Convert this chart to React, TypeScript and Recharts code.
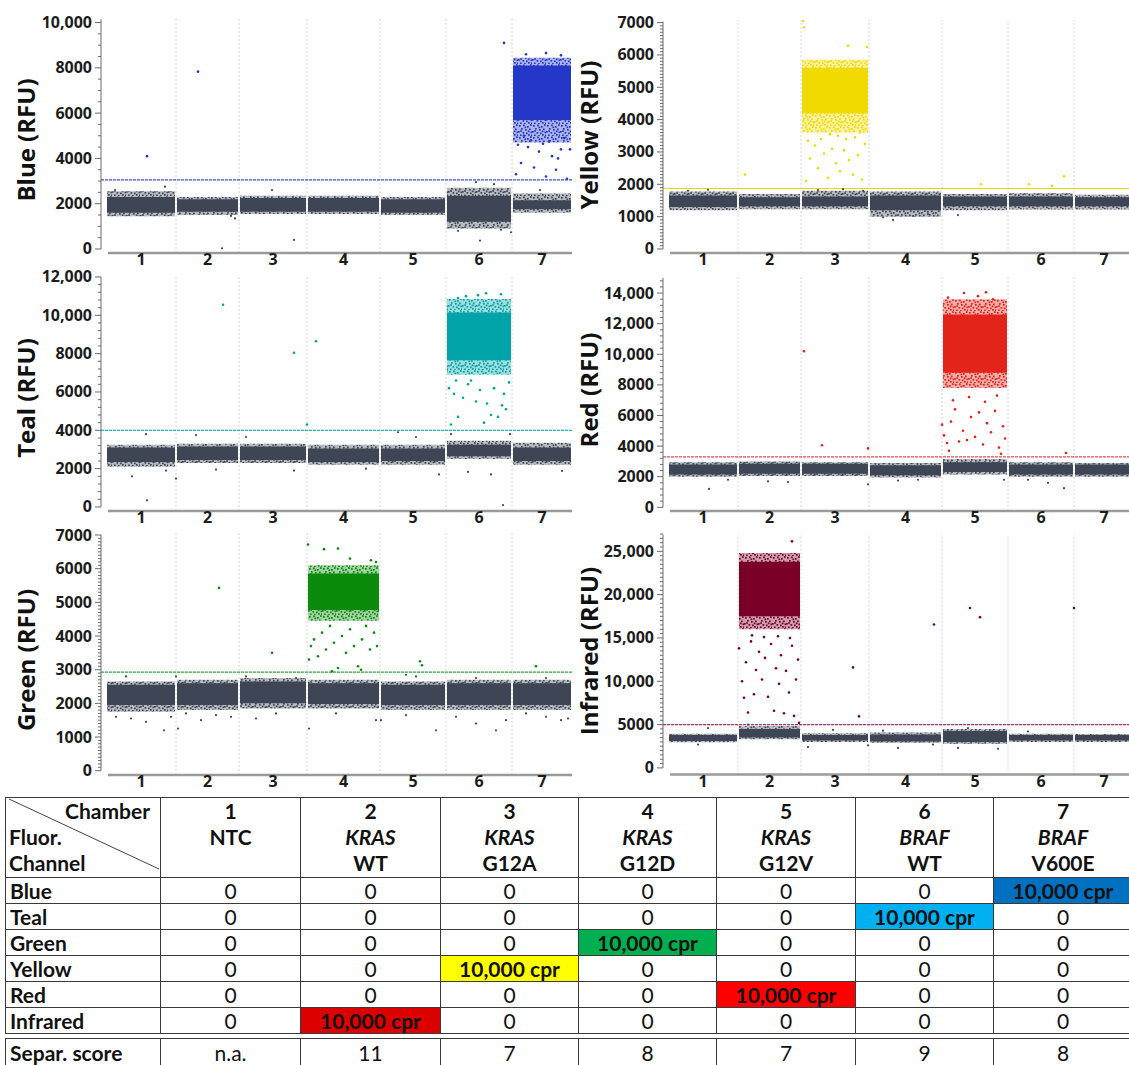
import React from 'react';
import { ComposedChart, Scatter, XAxis, YAxis, ReferenceArea, ReferenceLine } from 'recharts';

type Band = [number, number, number, number, number]; // chamber, coreLow, coreHigh, fringeLow, fringeHigh
type Pt = [number, number]; // droplet index, RFU

const CHAMBERS = ['1', '2', '3', '4', '5', '6', '7'];
// droplets per chamber (x span on the droplet axis)
const CHAMBER_SPAN = [70, 63, 68, 73, 66, 66, 60];

// ---- Blue channel
const BLUE_NEG: Band[] = [
  [1, 1600, 2300, 1450, 2550], [2, 1650, 2200, 1500, 2300], [3, 1650, 2250, 1550, 2350],
  [4, 1650, 2250, 1550, 2350], [5, 1600, 2200, 1500, 2300], [6, 1200, 2350, 900, 2700],
  [7, 1750, 2150, 1600, 2450],
];
const BLUE_POS: Band[] = [[7, 5700, 8100, 4700, 8450]];
const BLUE_RAIN: Pt[] = [
  [41, 4100], [92, 7830], [398, 9100], [410, 3300], [415, 3800], [422, 4500], [428, 3600], [433, 4300],
  [440, 3200], [446, 4100], [450, 3500], [455, 4400], [461, 3100], [464, 4400], [418, 5000], [437, 4650],
  [458, 4900], [425, 4800], [443, 4750], [412, 4600], [452, 4000], [420, 8600], [440, 8650], [455, 8550],
];
const BLUE_GRAY: Pt[] = [
  [116, 30], [188, 400], [374, 370], [405, 740], [129, 1350], [125, 1460], [59, 2750], [9, 2600],
  [166, 2600], [370, 2950], [388, 2860], [434, 2600], [352, 800], [395, 850],
];
const BLUE_THRESHOLD = 3050;
const BLUE_TICKS = [0, 2000, 4000, 6000, 8000, 10000];

// ---- Yellow channel
const YELLOW_NEG: Band[] = [
  [1, 1300, 1650, 1200, 1780], [2, 1320, 1600, 1230, 1700], [3, 1320, 1620, 1230, 1800],
  [4, 1200, 1650, 1000, 1780], [5, 1320, 1620, 1200, 1700], [6, 1320, 1620, 1220, 1720],
  [7, 1320, 1600, 1220, 1680],
];
const YELLOW_POS: Band[] = [[3, 4200, 5600, 3600, 5850]];
const YELLOW_RAIN: Pt[] = [
  [135, 7050], [136, 6850], [199, 6250], [180, 6280], [77, 2300], [313, 2000], [361, 2000], [396, 2250],
  [384, 1950], [138, 2100], [142, 2800], [147, 3200], [150, 2500], [156, 2950], [160, 2200], [164, 3100],
  [168, 2650], [172, 2400], [176, 3050], [181, 2750], [185, 2300], [190, 2900], [194, 2150], [197, 3250],
  [153, 3400], [170, 3500], [187, 3450], [140, 3350], [162, 3550], [178, 3400], [192, 3600],
];
const YELLOW_GRAY: Pt[] = [
  [215, 980], [230, 1050], [245, 1020], [260, 1080], [225, 900], [290, 1050], [150, 1820], [175, 1850],
  [195, 1800], [40, 1830], [20, 1800],
];
const YELLOW_THRESHOLD = 1870;
const YELLOW_TICKS = [0, 1000, 2000, 3000, 4000, 5000, 6000, 7000];

// ---- Teal channel
const TEAL_NEG: Band[] = [
  [1, 2350, 3100, 2100, 3250], [2, 2450, 3150, 2300, 3300], [3, 2450, 3150, 2300, 3300],
  [4, 2350, 3050, 2200, 3250], [5, 2400, 3050, 2200, 3250], [6, 2650, 3250, 2500, 3450],
  [7, 2400, 3100, 2200, 3350],
];
const TEAL_POS: Band[] = [[6, 7650, 10150, 6900, 10850]];
const TEAL_RAIN: Pt[] = [
  [117, 10550], [188, 8050], [210, 8650], [201, 4300], [343, 6200], [345, 4300], [348, 5900], [352, 4700],
  [357, 5700], [362, 6400], [370, 5500], [378, 4400], [381, 5400], [385, 4800], [388, 6200], [392, 4700],
  [396, 5300], [400, 5100], [403, 6500], [365, 6600], [374, 6100], [350, 6600], [398, 5900],
  [360, 11000], [380, 11150], [395, 11100], [352, 10900], [372, 11050],
];
const TEAL_GRAY: Pt[] = [
  [41, 350], [397, 100], [26, 1600], [70, 1480], [362, 1830], [385, 1700], [456, 1880], [188, 1900],
  [333, 1700], [60, 1900], [110, 1950], [260, 2000], [40, 3800], [90, 3750], [140, 3650], [292, 3900],
  [310, 3650], [345, 3800], [404, 3800],
];
const TEAL_THRESHOLD = 4000;
const TEAL_TICKS = [0, 2000, 4000, 6000, 8000, 10000, 12000];

// ---- Red channel
const RED_NEG: Band[] = [
  [1, 2150, 2800, 2000, 2950], [2, 2200, 2850, 2050, 3000], [3, 2200, 2850, 2050, 2950],
  [4, 2100, 2750, 1950, 2900], [5, 2300, 2950, 2150, 3150], [6, 2150, 2800, 2000, 2950],
  [7, 2150, 2800, 2000, 2900],
];
const RED_POS: Band[] = [[5, 8800, 12600, 7800, 13600]];
const RED_RAIN: Pt[] = [
  [136, 10200], [154, 4050], [200, 3850], [398, 3550], [274, 5400], [276, 4700], [279, 4200], [283, 5600],
  [287, 6400], [291, 4300], [295, 5000], [299, 4400], [303, 5900], [307, 4600], [311, 6200], [315, 4100],
  [319, 5500], [323, 4900], [327, 6300], [331, 3900], [335, 5300], [337, 4500], [285, 7000], [301, 7200],
  [317, 6900], [329, 7300], [281, 3700], [333, 3500], [280, 13700], [296, 14000], [310, 13800],
  [325, 13600], [318, 14050],
];
const RED_GRAY: Pt[] = [
  [41, 1200], [396, 1250], [60, 1800], [100, 1700], [120, 1650], [230, 1750], [250, 1800], [200, 1500],
  [360, 1800], [380, 1600], [336, 1800],
];
const RED_THRESHOLD = 3300;
const RED_TICKS = [0, 2000, 4000, 6000, 8000, 10000, 12000, 14000];

// ---- Green channel
const GREEN_NEG: Band[] = [
  [1, 1950, 2550, 1750, 2650], [2, 1950, 2600, 1800, 2700], [3, 2000, 2650, 1850, 2750],
  [4, 1980, 2600, 1850, 2700], [5, 1950, 2550, 1800, 2650], [6, 1950, 2600, 1800, 2700],
  [7, 1950, 2600, 1800, 2700],
];
const GREEN_POS: Band[] = [[4, 4770, 5860, 4450, 6100]];
const GREEN_RAIN: Pt[] = [
  [113, 5430], [166, 3500], [314, 3250], [316, 3130], [430, 3100], [202, 6720], [218, 6580], [232, 6600],
  [265, 6250], [270, 6200], [244, 6300], [203, 3300], [205, 3700], [208, 3900], [212, 3400], [216, 4100],
  [220, 3600], [224, 4300], [228, 3800], [232, 3050], [236, 4000], [240, 3500], [244, 4200], [248, 3700],
  [252, 3100], [256, 3900], [260, 4300], [264, 3600], [268, 4100], [271, 3700], [226, 2950], [255, 3000],
];
const GREEN_GRAY: Pt[] = [
  [10, 1600], [25, 1550], [40, 1450], [58, 1200], [65, 1600], [72, 1250], [80, 1700], [95, 1500],
  [110, 1650], [125, 1600], [150, 1550], [170, 1700], [203, 1250], [230, 1700], [270, 1500], [275, 1500],
  [300, 1650], [330, 1200], [350, 1600], [370, 1400], [390, 1200], [400, 1500], [420, 1700], [440, 1600],
  [455, 1500], [462, 1550], [20, 2800], [70, 2800], [140, 2800], [190, 2750], [300, 2850], [310, 2800],
  [370, 2750], [440, 2750],
];
const GREEN_THRESHOLD = 2930;
const GREEN_TICKS = [0, 1000, 2000, 3000, 4000, 5000, 6000, 7000];

// ---- Infrared channel
const IR_NEG: Band[] = [
  [1, 3100, 3800, 2950, 3950], [2, 3500, 4500, 3300, 4850], [3, 3150, 3800, 3000, 4000],
  [4, 3050, 3850, 2900, 4100], [5, 3000, 4250, 2800, 4500], [6, 3150, 3800, 3000, 3950],
  [7, 3150, 3800, 3000, 3900],
];
const IR_POS: Band[] = [[2, 17500, 23800, 16000, 24800]];
const IR_RAIN: Pt[] = [
  [124, 26150], [185, 11600], [191, 5950], [266, 16550], [302, 18450], [312, 17400], [406, 18450],
  [71, 13800], [74, 10000], [76, 8100], [78, 12200], [80, 6400], [83, 14600], [86, 8500], [88, 11300],
  [91, 13400], [94, 10200], [97, 12700], [100, 8200], [103, 14300], [106, 6600], [108, 11500], [111, 9700],
  [113, 13000], [116, 6300], [118, 11200], [121, 8700], [124, 14100], [126, 6000], [128, 10200],
  [130, 12500], [131, 5200], [96, 15100], [110, 15200], [122, 15000], [84, 15300],
];
const IR_GRAY: Pt[] = [
  [40, 4600], [30, 2700], [80, 5000], [140, 2400], [165, 4400], [200, 2600], [215, 4300], [230, 2300],
  [265, 2700], [290, 2300], [300, 4600], [330, 2200], [360, 4200],
];
const IR_THRESHOLD = 5000;
const IR_TICKS = [0, 5000, 10000, 15000, 20000, 25000];

// ---- Table
const TARGET_GENES = ['NTC', 'KRAS', 'KRAS', 'KRAS', 'KRAS', 'BRAF', 'BRAF'];
const TARGET_VARIANTS = ['', 'WT', 'G12A', 'G12D', 'G12V', 'WT', 'V600E'];
const CHANNELS = ['Blue', 'Teal', 'Green', 'Yellow', 'Red', 'Infrared'];
const LOADED_CHAMBER = [7, 6, 4, 3, 5, 2];
const LOADED_LABEL = '10,000 cpr';
const SEPAR_SCORES = ['n.a.', '11', '7', '8', '7', '9', '8'];

// ---- styling / layout
const GRAY = '#3e4655';
const CHART_FONT = '"Open Sans", sans-serif';
const TABLE_FONT = 'Lato, sans-serif';
const Y_AXIS_W = 101;
const X_DOMAIN: [number, number] = [-5, 466];
const PLOT_W = 471;
const TOP_PAD = 14;

// speckle positions inside one 14x12 pattern tile (fringe texture)
const SPECKS = [
  [1, 1], [5, 0.5], [9, 2], [12, 0.2], [3, 4], [7, 5], [11, 4.5], [0, 7], [4.5, 8], [8, 8.5],
  [12.5, 7.5], [2, 10.5], [6, 11], [10, 10], [6.5, 2.5], [13, 10.5], [2.2, 6.2], [9.8, 6.5],
];

const CH_START = CHAMBER_SPAN.map((_, i) => CHAMBER_SPAN.slice(0, i).reduce((a, b) => a + b, 0));
const CH_END = CH_START.map((s, i) => s + CHAMBER_SPAN[i]);
const CH_MID = CH_START.map((s, i) => s + CHAMBER_SPAN[i] / 2);

interface PanelCfg {
  id: string;
  title: string;
  color: string;
  lineColor: string;
  dash: string;
  neg: Band[];
  pos: Band[];
  rain: Pt[];
  gray: Pt[];
  threshold: number;
  majors: number[];
  minorStep: number;
  yMin: number;
  yMax: number;
  left: number;
  top: number;
  height: number;
  titleX: number;
  titleY: number;
}

const PANELS: PanelCfg[] = [
  { id: 'blue', title: 'Blue (RFU)', color: '#2437c8', lineColor: '#3b4fe0', dash: '3 1', neg: BLUE_NEG, pos: BLUE_POS, rain: BLUE_RAIN, gray: BLUE_GRAY, threshold: BLUE_THRESHOLD, majors: BLUE_TICKS, minorStep: 500, yMin: -177, yMax: 10200, left: 0, top: 18, height: 235, titleX: 25, titleY: 140 },
  { id: 'yellow', title: 'Yellow (RFU)', color: '#f0da00', lineColor: '#eed800', dash: '', neg: YELLOW_NEG, pos: YELLOW_POS, rain: YELLOW_RAIN, gray: YELLOW_GRAY, threshold: YELLOW_THRESHOLD, majors: YELLOW_TICKS, minorStep: 100, yMin: -124, yMax: 7080, left: 562, top: 20, height: 233, titleX: 588, titleY: 135 },
  { id: 'teal', title: 'Teal (RFU)', color: '#00a3a8', lineColor: '#1bb8c0', dash: '3 1', neg: TEAL_NEG, pos: TEAL_POS, rain: TEAL_RAIN, gray: TEAL_GRAY, threshold: TEAL_THRESHOLD, majors: TEAL_TICKS, minorStep: 400, yMin: -209, yMax: 12050, left: 0, top: 275.7, height: 235, titleX: 25, titleY: 398 },
  { id: 'red', title: 'Red (RFU)', color: '#e2241b', lineColor: '#ec4848', dash: '3 1', neg: RED_NEG, pos: RED_POS, rain: RED_RAIN, gray: RED_GRAY, threshold: RED_THRESHOLD, majors: RED_TICKS, minorStep: 400, yMin: -242, yMax: 15050, left: 562, top: 277, height: 234, titleX: 588, titleY: 390 },
  { id: 'green', title: 'Green (RFU)', color: '#0b8a0b', lineColor: '#22aa3a', dash: '3 1', neg: GREEN_NEG, pos: GREEN_POS, rain: GREEN_RAIN, gray: GREEN_GRAY, threshold: GREEN_THRESHOLD, majors: GREEN_TICKS, minorStep: 100, yMin: -128, yMax: 7060, left: 0, top: 533, height: 242, titleX: 25, titleY: 660 },
  { id: 'ir', title: 'Infrared (RFU)', color: '#7a0028', lineColor: '#b0305a', dash: '3 1', neg: IR_NEG, pos: IR_POS, rain: IR_RAIN, gray: IR_GRAY, threshold: IR_THRESHOLD, majors: IR_TICKS, minorStep: 500, yMin: -773, yMax: 27000, left: 562, top: 534.4, height: 240.6, titleX: 588, titleY: 651 },
];

const fmtTick = (v: number) => (v >= 10000 ? v.toLocaleString('en-US') : String(v));

const makeYTick = (majors: number[]) => (props: any) => {
  const { x, y, payload } = props;
  const major = majors.includes(payload.value);
  return (
    <g>
      <line x1={x - (major ? 6 : 3)} x2={x} y1={y} y2={y} stroke="#6a6a6a" strokeWidth={1} />
      {major && (
        <text x={x - 9} y={y} dy={5.5} textAnchor="end" fontSize={16} fontWeight={700} fill="#1c1c1c" fontFamily={CHART_FONT}>
          {fmtTick(payload.value)}
        </text>
      )}
    </g>
  );
};

const dot = (color: string, r: number) => (p: any) => <circle cx={p.cx} cy={p.cy} r={r} fill={color} />;

const bandAreas = (bands: Band[], color: string, pattern: string, tag: string) =>
  bands.flatMap(([c, lo, hi, flo, fhi]) => [
    <ReferenceArea key={`${tag}f${c}`} x1={CH_START[c - 1] + 1} x2={CH_END[c - 1] - 1} y1={flo} y2={fhi} fill={`url(#${pattern})`} fillOpacity={1} stroke="none" />,
    <ReferenceArea key={`${tag}c${c}`} x1={CH_START[c - 1] + 1} x2={CH_END[c - 1] - 1} y1={lo} y2={hi} fill={color} fillOpacity={1} stroke="none" />,
  ]);

function Panel({ cfg }: { cfg: PanelCfg }) {
  const minors: number[] = [];
  for (let v = cfg.minorStep; v <= cfg.yMax; v += cfg.minorStep) if (!cfg.majors.includes(v)) minors.push(v);
  const ticks = [...cfg.majors, ...minors].sort((a, b) => a - b);
  const top = cfg.majors[cfg.majors.length - 1];
  const axisTop = Math.max(top, cfg.yMax - 50);
  return (
    <div style={{ position: 'absolute', left: cfg.left, top: cfg.top - TOP_PAD }}>
      <ComposedChart width={Y_AXIS_W + PLOT_W} height={cfg.height + TOP_PAD + 24} margin={{ top: TOP_PAD, right: 0, bottom: 0, left: 0 }}>
        <XAxis
          type="number"
          dataKey="x"
          domain={X_DOMAIN}
          allowDataOverflow
          ticks={CH_MID}
          interval={0}
          tickFormatter={(_: number, i: number) => CHAMBERS[i]}
          tickLine={false}
          axisLine={false}
          tickSize={0}
          tickMargin={1}
          height={24}
          tick={{ fontSize: 16, fontWeight: 700, fill: '#1c1c1c', fontFamily: CHART_FONT }}
        />
        <YAxis
          type="number"
          dataKey="y"
          domain={[cfg.yMin, cfg.yMax]}
          allowDataOverflow
          ticks={ticks}
          interval={0}
          tick={makeYTick(cfg.majors)}
          tickLine={false}
          axisLine={false}
          tickSize={0}
          tickMargin={0}
          width={Y_AXIS_W}
        />
        {bandAreas(cfg.neg, GRAY, 'speck-gray', 'n')}
        {bandAreas(cfg.pos, cfg.color, `speck-${cfg.id}`, 'p')}
        {CH_END.slice(0, 6).map((b) => (
          <ReferenceLine key={`b${b}`} x={b} stroke="#d6d6d6" strokeDasharray="2 2" strokeWidth={1} />
        ))}
        <ReferenceLine y={cfg.threshold} stroke={cfg.lineColor} strokeDasharray={cfg.dash || undefined} strokeWidth={1.2} />
        <ReferenceLine segment={[{ x: X_DOMAIN[0], y: 0 }, { x: X_DOMAIN[0], y: axisTop }]} stroke="#6a6a6a" strokeWidth={1} ifOverflow="visible" />
        <ReferenceLine segment={[{ x: 2, y: cfg.yMin }, { x: X_DOMAIN[1], y: cfg.yMin }]} stroke="#9a9a9a" strokeWidth={2.5} ifOverflow="visible" />
        <Scatter data={cfg.gray.map(([x, y]) => ({ x, y }))} shape={dot(GRAY, 1.1)} isAnimationActive={false} />
        <Scatter data={cfg.rain.map(([x, y]) => ({ x, y }))} shape={dot(cfg.color, 1.3)} isAnimationActive={false} />
      </ComposedChart>
    </div>
  );
}

const COL_W = [155, 140, 140, 138, 138, 139, 138, 139];
const CELL_COLORS = ['#0070c0', '#00b0f0', '#00b050', '#ffff00', '#ff0000', '#dc0000'];
const border = '1.5px solid #3a3a3a';

function ResultTable() {
  const td: React.CSSProperties = { border, padding: 0, textAlign: 'center', lineHeight: '24px' };
  return (
    <>
      <table style={{ position: 'absolute', left: 5, top: 797, width: 1127, borderCollapse: 'collapse', tableLayout: 'fixed', fontFamily: TABLE_FONT, fontSize: 21, color: '#111' }}>
        <colgroup>
          {COL_W.map((w, i) => <col key={i} style={{ width: w }} />)}
        </colgroup>
        <tbody>
          <tr style={{ height: 80 }}>
            <td style={{ ...td, textAlign: 'left', position: 'relative', fontWeight: 700, lineHeight: '26px', verticalAlign: 'top' }}>
              <svg width={155} height={80} style={{ position: 'absolute', left: 0, top: 0 }}>
                <line x1={3} y1={1} x2={153} y2={71} stroke="#444" strokeWidth={1} />
              </svg>
              <div style={{ textAlign: 'right', paddingRight: 10, position: 'relative' }}>Chamber</div>
              <div style={{ paddingLeft: 3, position: 'relative' }}>Fluor.</div>
              <div style={{ paddingLeft: 3, position: 'relative' }}>Channel</div>
            </td>
            {CHAMBERS.map((c, i) => (
              <td key={c} style={{ ...td, fontWeight: 700, lineHeight: '26px', verticalAlign: 'top' }}>
                <div>{c}</div>
                <div style={{ fontStyle: TARGET_GENES[i] === 'NTC' ? 'normal' : 'italic' }}>{TARGET_GENES[i]}</div>
                <div>{TARGET_VARIANTS[i] || '\u00a0'}</div>
              </td>
            ))}
          </tr>
          {CHANNELS.map((ch, r) => (
            <tr key={ch} style={{ height: 26 }}>
              <td style={{ ...td, textAlign: 'left', paddingLeft: 4, fontWeight: 700 }}>{ch}</td>
              {CHAMBERS.map((c, i) =>
                LOADED_CHAMBER[r] === i + 1 ? (
                  <td key={c} style={{ ...td, background: CELL_COLORS[r], fontWeight: 700 }}>{LOADED_LABEL}</td>
                ) : (
                  <td key={c} style={td}>0</td>
                )
              )}
            </tr>
          ))}
        </tbody>
      </table>
      <table style={{ position: 'absolute', left: 5, top: 1038, width: 1127, borderCollapse: 'collapse', tableLayout: 'fixed', fontFamily: TABLE_FONT, fontSize: 21, color: '#111' }}>
        <colgroup>
          {COL_W.map((w, i) => <col key={i} style={{ width: w }} />)}
        </colgroup>
        <tbody>
          <tr style={{ height: 28 }}>
            <td style={{ ...td, textAlign: 'left', paddingLeft: 4, fontWeight: 700 }}>Separ. score</td>
            {SEPAR_SCORES.map((s, i) => <td key={i} style={td}>{s}</td>)}
          </tr>
        </tbody>
      </table>
    </>
  );
}

export default function App() {
  return (
    <div style={{ position: 'absolute', left: 0, top: 0, width: 1129, height: 1065, overflow: 'hidden', background: '#fff' }}>
      <svg width={0} height={0} style={{ position: 'absolute' }}>
        <defs>
          {[{ id: 'gray', c: GRAY }, ...PANELS.map((p) => ({ id: p.id, c: p.color }))].map(({ id, c }) => (
            <pattern key={id} id={`speck-${id}`} width={14} height={12} patternUnits="userSpaceOnUse">
              <rect x={0} y={0} width={14} height={12} fill={c} fillOpacity={0.38} />
              {SPECKS.map(([sx, sy], k) => (
                <rect key={k} x={sx} y={sy} width={1.7} height={1.7} fill={c} />
              ))}
            </pattern>
          ))}
        </defs>
      </svg>
      {PANELS.map((p) => (
        <Panel key={p.id} cfg={p} />
      ))}
      {PANELS.map((p) => (
        <div
          key={`t${p.id}`}
          style={{
            position: 'absolute', left: p.titleX, top: p.titleY, transform: 'translate(-50%, -50%) rotate(-90deg)',
            whiteSpace: 'nowrap', fontFamily: CHART_FONT, fontWeight: 700, fontSize: 24, color: '#111',
          }}
        >
          {p.title}
        </div>
      ))}
      <ResultTable />
    </div>
  );
}
